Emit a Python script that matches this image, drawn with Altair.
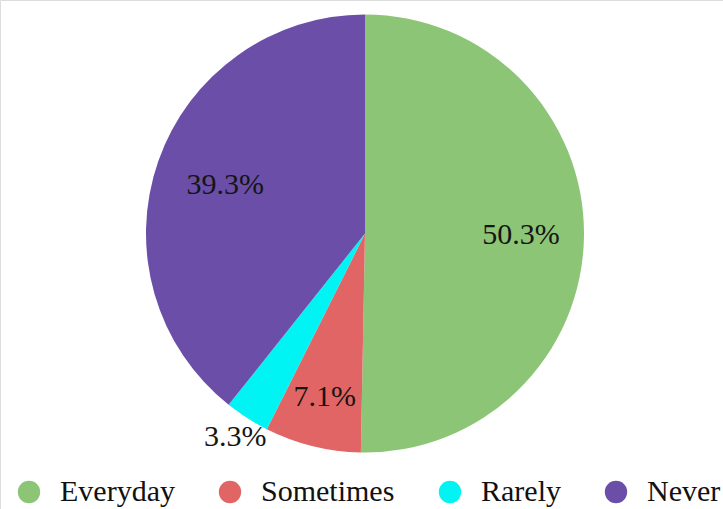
import altair as alt
import pandas as pd

# Share of respondents by frequency
categories = ["Everyday", "Sometimes", "Rarely", "Never"]
shares = [50.3, 7.1, 3.3, 39.3]
labels = ["50.3%", "7.1%", "3.3%", "39.3%"]
slice_order = [1, 2, 3, 4]
colors = ["#8dc576", "#e26565", "#00f4f4", "#6a4ea8"]

df = pd.DataFrame({
    "category": categories,
    "share": shares,
    "label": labels,
    "rank": slice_order,
})

FONT = "Liberation Serif"
CX, CY = 365, 233.5

theta = alt.Theta("share:Q", stack=True)
order = alt.Order("rank:Q")

pie = alt.Chart(df).mark_arc(outerRadius=219).encode(
    theta=theta,
    order=order,
    x=alt.value(CX),
    y=alt.value(CY),
    color=alt.Color(
        "category:N",
        scale=alt.Scale(domain=categories, range=colors),
        sort=categories,
        legend=alt.Legend(
            title=None,
            orient="none",
            direction="horizontal",
            legendX=14,
            legendY=477,
            symbolType="circle",
            symbolSize=500,
            symbolStrokeWidth=0,
            symbolOpacity=1,
            labelFont=FONT,
            labelFontSize=30,
            labelColor="#111111",
            labelOffset=16,
            columnPadding=40,
            labelLimit=300,
        ),
    ),
)

# Per-slice label distance from the centre
label_radius = {"Everyday": 156, "Sometimes": 168, "Rarely": 241, "Never": 148}

layers = [pie]
for cat, r in label_radius.items():
    layers.append(
        alt.Chart(df)
        .mark_text(font=FONT, fontSize=30, color="#151515", baseline="middle", align="center")
        .encode(
            theta=theta,
            order=order,
            x=alt.value(CX),
            y=alt.value(CY),
            radius=alt.value(r),
            text=alt.condition(alt.datum.category == cat, "label:N", alt.value("")),
        )
    )

chart = (
    alt.layer(*layers)
    .properties(width=723, height=509, padding=0, autosize=alt.AutoSizeParams(type="none"))
    .configure_view(stroke=None)
    .configure(background="white")
)

chart.save("out.html", embed_options={"renderer": "svg", "actions": False})
